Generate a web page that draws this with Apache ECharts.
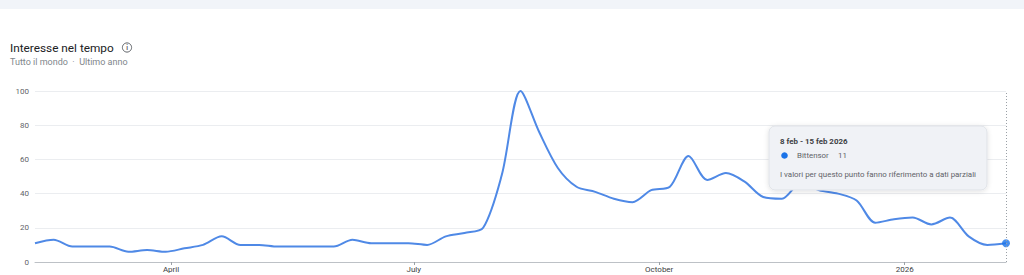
<!DOCTYPE html>
<html>
<head>
<meta charset="utf-8">
<script src="https://cdn.jsdelivr.net/npm/echarts@6/dist/echarts.min.js"></script>
<style>
  html, body { margin: 0; padding: 0; background: #ffffff; }
  #chart { width: 1024px; height: 275px; }
</style>
</head>
<body>
<div id="chart"></div>
<script>
// ---- data ----
const weekStarts = [
  '2025-02-09','2025-02-16','2025-02-23','2025-03-02','2025-03-09','2025-03-16','2025-03-23','2025-03-30',
  '2025-04-06','2025-04-13','2025-04-20','2025-04-27','2025-05-04','2025-05-11','2025-05-18','2025-05-25',
  '2025-06-01','2025-06-08','2025-06-15','2025-06-22','2025-06-29','2025-07-06','2025-07-13','2025-07-20',
  '2025-07-27','2025-08-03','2025-08-10','2025-08-17','2025-08-24','2025-08-31','2025-09-07','2025-09-14',
  '2025-09-21','2025-09-28','2025-10-05','2025-10-12','2025-10-19','2025-10-26','2025-11-02','2025-11-09',
  '2025-11-16','2025-11-23','2025-11-30','2025-12-07','2025-12-14','2025-12-21','2025-12-28','2026-01-04',
  '2026-01-11','2026-01-18','2026-01-25','2026-02-01','2026-02-08'
];
const bittensor = [
  11,13,9,9,9,6,7,6,8,10,15,10,10,9,9,9,9,13,11,11,11,10,15,17,20,51,
  100,76,55,44,41,37,35,42,44,62,48,52,47,38,37,46,42,40,36,23,25,26,22,26,15,10,11
];
const tickDates = ['2025-04-01','2025-07-01','2025-10-01','2026-01-01'];
const tickLabels = ['April','July','October','2026'];
const yTicks = [0,20,40,60,80,100];
const seriesName = 'Bittensor';
const tipTitle = '8 feb - 15 feb 2026';
const tipNote = 'I valori per questo punto fanno riferimento a dati parziali';
const chartTitle = 'Interesse nel tempo';
const chartSubtitle = 'Tutto il mondo  ·  Ultimo anno';

// ---- helpers ----
function ts(s) { const p = s.split('-').map(Number); return Date.UTC(p[0], p[1]-1, p[2]); }
const points = weekStarts.map((d, i) => [ts(d), bittensor[i]]);
const tickTs = tickDates.map(ts);
const lastPoint = points[points.length - 1];

const FONT = 'Roboto, "Noto Sans", sans-serif';
const chart = echarts.init(document.getElementById('chart'), null, { renderer: 'svg' });

chart.setOption({
  animation: false,
  backgroundColor: '#ffffff',
  grid: { left: 35, right: 18, top: 91, bottom: 13, containLabel: false },
  xAxis: {
    type: 'value',
    min: points[0][0],
    max: lastPoint[0],
    axisLine: { show: true, lineStyle: { color: '#bdc1c6', width: 1 } },
    axisTick: { show: true, customValues: tickTs, length: 3, inside: false, lineStyle: { color: '#9aa0a6' } },
    axisLabel: {
      show: true,
      customValues: tickTs,
      formatter: function (v) {
        const i = tickTs.indexOf(v);
        return i >= 0 ? tickLabels[i] : '';
      },
      color: '#3c4043',
      fontFamily: FONT,
      fontSize: 8,
      margin: 3,
      hideOverlap: false
    },
    splitLine: { show: false }
  },
  yAxis: {
    type: 'value',
    min: yTicks[0],
    max: yTicks[yTicks.length - 1],
    interval: 20,
    axisLine: { show: false },
    axisTick: { show: false },
    axisLabel: { color: '#5f6368', fontFamily: FONT, fontSize: 8, margin: 6 },
    splitLine: { show: true, lineStyle: { color: '#ebedf0', width: 1 } }
  },
  series: [
    {
      name: seriesName,
      type: 'line',
      data: points,
      smooth: 0.3,
      showSymbol: false,
      lineStyle: { color: '#4f89e6', width: 2 },
      markLine: {
        silent: true,
        symbol: ['none', 'none'],
        label: { show: false },
        lineStyle: { color: '#9aa0a6', type: [1, 2], width: 1 },
        data: [{ xAxis: lastPoint[0] }]
      },
      z: 3
    },
    {
      name: seriesName + ' (ultimo)',
      type: 'scatter',
      data: [lastPoint],
      symbol: 'circle',
      symbolSize: 8,
      itemStyle: { color: '#1a73e8' },
      z: 4
    }
  ],
  graphic: [
    { type: 'rect', shape: { x: 0, y: 0, width: 1024, height: 9 }, style: { fill: '#f1f4f9' }, silent: true },
    { type: 'text', style: { x: 10, y: 47.5, text: chartTitle, fill: '#202124', font: '11.8px ' + FONT, textVerticalAlign: 'middle' } },
    { type: 'circle', shape: { cx: 127, cy: 47.5, r: 4.6 }, style: { fill: 'none', stroke: '#5f6368', lineWidth: 1 } },
    { type: 'text', style: { x: 127, y: 47.8, text: 'i', fill: '#5f6368', font: 'bold 6.5px ' + FONT, textAlign: 'center', textVerticalAlign: 'middle' } },
    { type: 'text', style: { x: 10, y: 62, text: chartSubtitle, fill: '#80868b', font: '9px ' + FONT, textVerticalAlign: 'middle' } },
    {
      type: 'group',
      z: 100,
      children: [
        { type: 'rect', z: 100, shape: { x: 769, y: 126, width: 218, height: 64, r: 6 },
          style: { fill: '#f0f2f6', stroke: '#dfe2e7', lineWidth: 1, shadowBlur: 5, shadowColor: 'rgba(0,0,0,0.12)', shadowOffsetY: 1 } },
        { type: 'text', z: 101, style: { x: 780, y: 141.5, text: tipTitle, fill: '#3c4043', font: 'bold 7.9px ' + FONT, textVerticalAlign: 'middle' } },
        { type: 'circle', z: 101, shape: { cx: 784.5, cy: 155.5, r: 3.3 }, style: { fill: '#1a73e8' } },
        { type: 'text', z: 101, style: { x: 797, y: 155.5, text: seriesName, fill: '#5f6368', font: '7.9px ' + FONT, textVerticalAlign: 'middle' } },
        { type: 'text', z: 101, style: { x: 838, y: 155.5, text: String(lastPoint[1]), fill: '#5f6368', font: '7.9px ' + FONT, textVerticalAlign: 'middle' } },
        { type: 'text', z: 101, style: { x: 780, y: 174.5, text: tipNote, fill: '#5f6368', font: '7.9px ' + FONT, textVerticalAlign: 'middle' } }
      ]
    }
  ]
});
</script>
</body>
</html>
